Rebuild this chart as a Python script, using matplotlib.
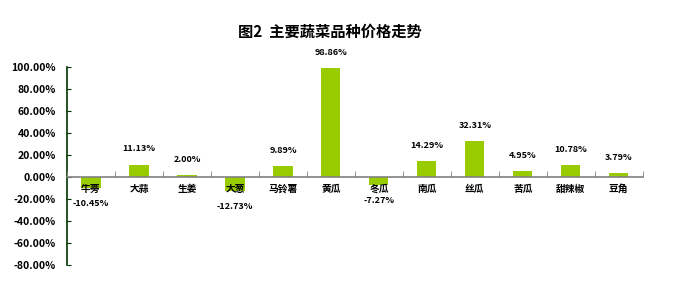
import matplotlib.pyplot as plt
import numpy as np

plt.rcParams['font.family'] = ['Noto Sans CJK SC', 'DejaVu Sans']

# vegetable categories and price change (%)
names = ['牛蒡', '大蒜', '生姜', '大葱', '马铃薯', '黄瓜', '冬瓜', '南瓜', '丝瓜', '苦瓜', '甜辣椒', '豆角']
values = [-10.45, 11.13, 2.00, -12.73, 9.89, 98.86, -7.27, 14.29, 32.31, 4.95, 10.78, 3.79]
yticks = [-80, -60, -40, -20, 0, 20, 40, 60, 80, 100]

fig = plt.figure(figsize=(6.73, 2.87), dpi=100)
ax = fig.add_axes([0.0996, 0.0767, 0.8554, 0.6909])

x = np.arange(len(names))
ax.bar(x, values, width=0.4, color='#99CC00', zorder=1)

ax.set_xlim(-0.5, len(names) - 0.5)
ax.set_ylim(-80, 100)

# value labels
for xi, v in zip(x, values):
    if v >= 0:
        ax.annotate('%.2f%%' % v, (xi, v), xytext=(0, 8), textcoords='offset points',
                    ha='center', va='bottom', fontsize=6.5, fontweight='bold')
    else:
        ax.annotate('%.2f%%' % v, (xi, v), xytext=(0, -8), textcoords='offset points',
                    ha='center', va='top', fontsize=6.5, fontweight='bold')

# spines
for s in ['top', 'right']:
    ax.spines[s].set_visible(False)
ax.spines['left'].set_color('#003300')
ax.spines['left'].set_linewidth(1.2)
ax.spines['bottom'].set_position(('data', 0))
ax.spines['bottom'].set_color('#808080')
ax.spines['bottom'].set_linewidth(1.2)

ax.set_yticks(yticks)
ax.set_yticklabels(['%.2f%%' % t for t in yticks], fontsize=7.5, fontweight='bold')
ax.tick_params(axis='y', direction='in', length=3, color='#003300', pad=8)

ax.set_xticks(x)
ax.set_xticklabels(names, fontsize=7, fontweight='bold')
ax.set_xticks(np.arange(-0.5, len(names)), minor=True)
ax.tick_params(axis='x', which='major', length=0, pad=5)
ax.tick_params(axis='x', which='minor', direction='in', length=4, color='#808080')
ax.xaxis.set_zorder(3)

fig.text(0.49, 0.888, '图2  主要蔬菜品种价格走势', ha='center', va='center',
         fontsize=11, fontweight='bold')

plt.savefig('out.png', dpi=100)
